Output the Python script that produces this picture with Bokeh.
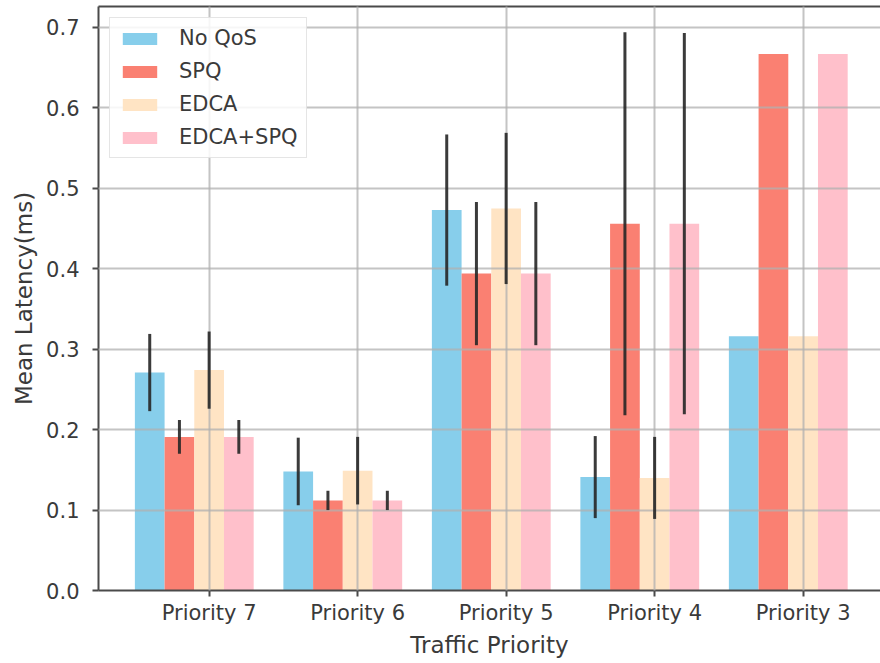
from bokeh.plotting import figure
from bokeh.models import Range1d, FixedTicker, LinearAxis, Legend, LegendItem, NumeralTickFormatter
from bokeh.embed import file_html
from bokeh.resources import INLINE

categories = ["Priority 7", "Priority 6", "Priority 5", "Priority 4", "Priority 3"]
series = ["No QoS", "SPQ", "EDCA", "EDCA+SPQ"]
noqos = [0.271, 0.148, 0.473, 0.141, 0.316]
noqos_err = [0.048, 0.042, 0.094, 0.051, 0.0]
spq = [0.191, 0.112, 0.394, 0.456, 0.667]
spq_err = [0.021, 0.012, 0.089, 0.238, 0.0]
edca = [0.274, 0.149, 0.475, 0.140, 0.316]
edca_err = [0.048, 0.042, 0.094, 0.051, 0.0]
edcaspq = [0.191, 0.112, 0.394, 0.456, 0.667]
edcaspq_err = [0.021, 0.012, 0.089, 0.237, 0.0]
y_ticks = [0.0, 0.1, 0.2, 0.3, 0.4, 0.5, 0.6, 0.7]

colors = ["#87CEEB", "#FA8072", "#FFE4C4", "#FFC0CB"]
values = [noqos, spq, edca, edcaspq]
errors = [noqos_err, spq_err, edca_err, edcaspq_err]
offsets = [-0.4, -0.2, 0.0, 0.2]
bar_w = 0.2

FONT = "DejaVu Sans"
TXT = "#3a3a3a"
SPINE = "#4a4a4a"

p = figure(width=880, height=663, output_backend="svg", toolbar_location=None,
           x_range=Range1d(-0.745, 4.521), y_range=Range1d(0.0, 0.7261),
           min_border_left=98, min_border_right=0, min_border_top=6, min_border_bottom=73)
p.outline_line_color = None
p.background_fill_color = "white"

idx = list(range(len(categories)))
items = []
for s, vals, errs, c, off in zip(series, values, errors, colors, offsets):
    xs = [i + off for i in idx]
    r = p.vbar(x=xs, top=vals, width=bar_w, bottom=0, fill_color=c, line_color=None)
    items.append(LegendItem(label=s, renderers=[r]))

for vals, errs, off in zip(values, errors, offsets):
    xs, lo, hi = [], [], []
    for i, v, e in zip(idx, vals, errs):
        if e > 0:
            xs.append(i + off)
            lo.append(v - e)
            hi.append(v + e)
    er = p.segment(x0=xs, y0=lo, x1=xs, y1=hi, line_color="#262626", line_width=3, line_alpha=0.9)
    er.level = "annotation"

# grid
p.xgrid.ticker = FixedTicker(ticks=idx)
p.ygrid.ticker = FixedTicker(ticks=y_ticks)
for g in (p.xgrid, p.ygrid):
    g.grid_line_color = "#b0b0b0"
    g.grid_line_width = 2
    g.grid_line_alpha = 0.75
    g.level = "guide"

# axes
xa = p.xaxis[0]
xa.ticker = FixedTicker(ticks=idx)
xa.major_label_overrides = {i: c for i, c in zip(idx, categories)}
ya = p.yaxis[0]
ya.ticker = FixedTicker(ticks=y_ticks)
ya.formatter = NumeralTickFormatter(format="0.0")
xa.axis_label = "Traffic Priority"
ya.axis_label = "Mean Latency(ms)"
for ax in (xa, ya):
    ax.axis_line_color = SPINE
    ax.axis_line_width = 2
    ax.major_tick_line_color = SPINE
    ax.major_tick_line_width = 2
    ax.major_tick_out = 6
    ax.major_tick_in = 0
    ax.minor_tick_line_color = None
    ax.major_label_text_font = FONT
    ax.major_label_text_font_size = "21px"
    ax.major_label_text_color = TXT
    ax.axis_label_text_font = FONT
    ax.axis_label_text_font_size = "23px"
    ax.axis_label_text_font_style = "normal"
    ax.axis_label_text_color = TXT
xa.major_label_standoff = 4
xa.axis_label_standoff = 4
ya.major_label_standoff = 13
ya.axis_label_standoff = 6

top = LinearAxis(ticker=FixedTicker(ticks=[]), axis_line_color=SPINE, axis_line_width=2,
                 major_tick_out=0, major_tick_in=0, minor_tick_out=0, minor_tick_in=0,
                 major_label_text_font_size="0px", major_label_standoff=0)
p.add_layout(top, "above")

legend = Legend(items=items, location="top_left")
legend.margin = 11
legend.padding = 8
legend.spacing = 9
legend.glyph_width = 43
legend.glyph_height = 15
legend.label_height = 20
legend.label_standoff = 18
legend.label_text_font = FONT
legend.label_text_font_size = "21px"
legend.label_text_color = TXT
legend.border_line_color = "#cccccc"
legend.border_line_width = 1.5
legend.background_fill_alpha = 0.85
p.add_layout(legend, "center")

open("out.html", "w").write(file_html(p, INLINE))
